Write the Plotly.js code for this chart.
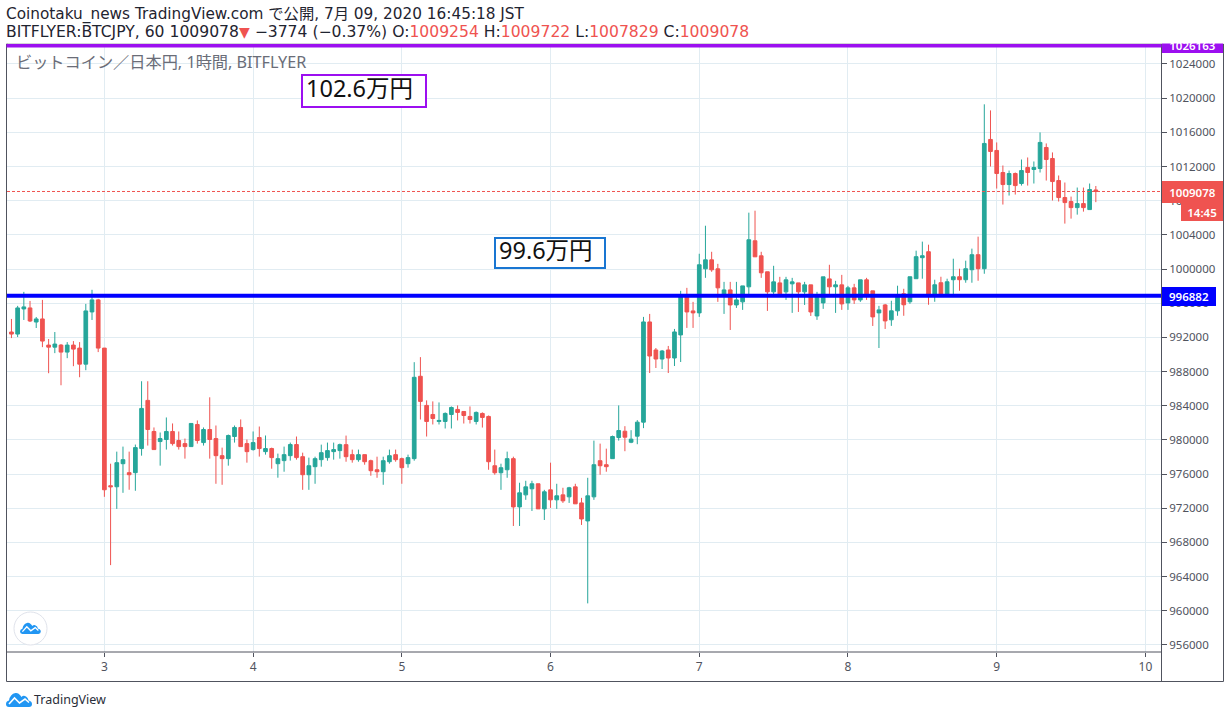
<!DOCTYPE html>
<html><head><meta charset="utf-8">
<script src="https://cdn.plot.ly/plotly-3.0.1.min.js"></script>
<style>html,body{margin:0;padding:0;background:#fff}#chart{width:1230px;height:718px}</style>
</head><body><div id="chart"></div>
<script>
var opens=[992630,992390,995330,995450,993800,994160,991100,990860,991100,990280,
991100,990750,988870,994980,996390,990750,974640,974520,977220,976170,
976170,978990,984630,980990,979810,980050,980990,979930,979570,979220,
981810,979690,981220,980160,978160,977810,980400,981460,979570,978870,
980280,978630,978990,977220,977580,978160,979460,978040,975930,976870,
977690,977930,978630,978750,979450,978280,977690,978280,977570,976510,
976280,977450,978280,977810,977220,977810,987450,984040,982980,982160,
982160,982980,983570,983330,982750,982160,983100,982750,976980,976160,
976510,977810,972160,973570,974280,974870,971930,974160,972990,973570,
973340,974510,972630,970520,973340,977570,977100,977810,980280,981020,
979730,980440,982080,993810,990530,989470,990530,989590,992290,996980,
995100,994870,1000030,1001080,1000030,996860,997560,995800,996160,997920,
1003310,1001550,999680,997330,998380,997330,998270,998380,997330,998150,
994510,996040,998850,997920,998150,996040,997800,996390,998740,997450,
994870,995800,994060,995110,997110,996170,998870,1001330,1002030,996870,
998400,996870,998750,999100,998750,999920,1001680,1000040,1015170,1013880,
1011300,1009890,1011180,1010010,1011890,1011650,1011770,1014230,1012940,1010360,
1008370,1007900,1007190,1007660,1006960,1009254];
var highs=[994160,995690,997330,996270,994390,996390,991810,992630,991220,991450,
991570,991450,995920,997570,996510,990750,977220,978630,979220,978630,
979460,986870,986870,981460,980870,982630,981930,980990,980160,981930,
982280,981460,984990,981690,979100,980630,981690,982400,980050,980990,
981570,980520,979100,978400,979220,979690,980400,978510,977930,978040,
979450,979690,979690,979570,980510,978870,978870,978280,977690,978040,
978040,978870,978870,977930,978280,989100,989690,984630,984510,984390,
983220,983920,984040,983330,983920,983330,983220,982860,978870,977220,
978630,978040,974990,975220,975220,974870,974160,977340,974870,974400,
974510,974870,973220,975570,979920,979570,978980,980510,984040,981610,
981140,982320,994400,994750,990760,990530,991000,992990,997450,997800,
996160,1001790,1005070,1002020,1000610,998500,998500,998500,998030,1006600,
1006830,1002020,999680,1000380,999090,999090,998970,998380,998500,998150,
997330,999090,1000500,998620,999320,998030,998270,998740,998970,997450,
995690,995920,996290,998050,997690,999100,1002150,1003210,1002850,998750,
999100,998870,1001210,1000040,1000980,1002390,1003790,1019280,1018570,1014820,
1012120,1011530,1011300,1012820,1013060,1012590,1015990,1014700,1013650,1010950,
1010130,1008480,1009540,1009540,1010010,1009722];
var lows=[991920,992040,994040,993800,993100,990860,987810,990160,986400,989570,
988630,987340,988160,994040,990280,973340,965350,971930,973810,974170,
974050,978160,979340,978870,976990,978870,979340,978870,977810,979220,
979570,979340,977810,974870,974750,976990,979690,979220,977340,978750,
978050,978280,976630,975580,976280,977580,977690,974160,974160,974870,
976870,977570,977690,977810,977450,977340,977450,977100,975810,975570,
974750,977220,977450,974870,976750,977570,982390,980400,981810,981810,
981340,981340,982280,981920,981920,981810,981450,976510,975930,974160,
975570,969930,969930,972990,971690,971930,970630,972050,971930,972630,
972630,972520,970050,960870,972990,975930,976280,977810,979920,978680,
979620,979500,981380,987830,988420,988300,987830,988650,989120,993110,
993110,994400,998970,999680,996160,994750,992870,995450,995220,996980,
1001430,998970,995100,996980,996780,996390,994870,994980,995800,994510,
994050,995340,996980,994870,995220,995220,995920,996160,996390,993340,
990760,992990,993350,994530,994530,995930,998870,998870,995820,996170,
996870,996870,996990,997460,998400,998400,998630,999450,1012000,1009420,
1007550,1008600,1008720,1009770,1009770,1010010,1011300,1010360,1008020,1007900,
1005320,1005900,1006370,1006720,1006960,1007829];
var closes=[992390,995450,995570,993920,994160,991570,990860,991220,990280,991100,
990630,988870,995100,996390,990750,974170,974520,977340,977690,975930,
979100,983690,981220,978870,980160,980990,979570,979220,979220,981930,
979930,981220,980050,978160,977810,980520,981460,979220,978630,979690,
978990,978990,977930,977810,978280,979460,977930,975930,976980,977810,
978510,978750,978870,979450,978040,977690,978280,977450,976400,976280,
977570,978160,977690,976750,977930,987330,984510,982160,982510,982280,
983100,983800,983220,982860,982390,983220,982630,977450,976160,976750,
977810,972160,973810,974510,974870,971930,973930,972990,973460,972870,
974400,972520,970750,973460,977100,976980,976870,980400,981100,980320,
980090,982080,993810,989820,989470,990410,989590,992640,996860,994980,
994870,1000500,1001080,999910,997800,997560,995800,996390,998030,1003430,
1001430,999560,997330,998500,997100,998740,998500,997330,998150,994980,
996980,999090,997920,998150,995920,997800,996390,998740,996780,994400,
995220,993930,995110,996870,995820,999100,1001450,1001560,996990,998160,
996870,998510,999100,998750,1000040,1001680,1000040,1014700,1013760,1011180,
1009890,1011180,1009770,1011530,1011300,1011890,1014820,1012820,1010240,1008370,
1007780,1007190,1007660,1007190,1009310,1009078];
var firstCandle=Date.UTC(2020,6,2,9);
var hourMs=3600000;
var times=opens.map(function(_,i){return firstCandle+i*hourMs;});
var lastPrice=1009078, bluePrice=996882, purplePrice=1026163;
var WIDTH=1230,HEIGHT=718,ML=7,MR=69,MT=44,MB=66;
var UP='#26a69a',DOWN='#ef5350',GRID='#e1ecf2',FRAME='#50535e',PURPLE='#9c0ff0',BLUE='#0000ff',BOX2='#1976d2';
var JP='"Noto Sans","Noto Sans CJK JP",sans-serif';
var HEAD='"DejaVu Sans","Noto Sans CJK JP",sans-serif';
function X(p){return (p-ML)/(WIDTH-ML-MR);}
function Y(p){return (HEIGHT-MB-p)/(HEIGHT-MT-MB);}
function note(px,py,text,size,color,family){
  return {xref:'paper',yref:'paper',x:X(px),y:Y(py),text:text,showarrow:false,xanchor:'left',yanchor:'middle',
         font:{family:family||JP,size:size,color:color},borderpad:0,borderwidth:0};
}
function label(x0,x1,y0,y1,text,bg){
  return {xref:'paper',yref:'paper',x:X(x0),y:Y(y0),xanchor:'left',yanchor:'top',width:x1-x0,height:y1-y0,
    text:text,showarrow:false,bgcolor:bg,borderpad:0,borderwidth:0,align:'center',valign:'middle',
    font:{family:'"Noto Sans",sans-serif',size:11.5,color:'#fff',weight:600}};
}
function rect(x0,y0,x1,y1,opt){
  var s={type:'rect',xref:'paper',yref:'paper',x0:X(x0),x1:X(x1),y0:Y(y0),y1:Y(y1),layer:'above',line:{width:1,color:FRAME},fillcolor:'rgba(0,0,0,0)'};
  for(var k in (opt||{}))s[k]=opt[k];
  return s;
}
function scaled(cmds,ox,oy,s){
  return cmds.map(function(c){
    if(typeof c==='string')return c;
    return (X(ox+c[0]*s))+','+(Y(oy+c[1]*s));
  }).join(' ');
}
var cloud=['M',[3,15],'Q',[0,15],[0,12],'Q',[0,9],[3,8.5],'Q',[4,2],[9.5,1],'Q',[12,0.5],[14,3],'L',[15.5,5],'Q',[17,3],[19,4],'Q',[22,5],[22.5,8.5],'Q',[26,9],[26,12],'Q',[26,15],[23,15],'Z'];
var zig=['M',[3,12],'L',[8.5,6],'L',[13.5,11],'L',[19,7],'L',[23,10.5]];
function logo(ox,oy,s,lw){
  return [
   {type:'path',xref:'paper',yref:'paper',path:scaled(cloud,ox,oy,s),fillcolor:'#2196f3',line:{width:0},layer:'above'},
   {type:'path',xref:'paper',yref:'paper',path:scaled(zig,ox,oy,s),line:{width:lw,color:'#fff'},layer:'above'}
  ];
}
var shapes=[
 {type:'line',xref:'paper',yref:'y',x0:0,x1:1,y0:lastPrice,y1:lastPrice,line:{color:DOWN,width:1,dash:'3px,2px'},layer:'above'},
 {type:'line',xref:'paper',yref:'y',x0:0,x1:1,y0:bluePrice,y1:bluePrice,line:{color:BLUE,width:4},layer:'above'},
 rect(302,75,426,107,{line:{color:PURPLE,width:2},fillcolor:'#fff'}),
 rect(495,238,605,268,{line:{color:BOX2,width:2},fillcolor:'#fff'}),
 rect(6.5,44,1223.5,681.5),
 {type:'line',xref:'paper',yref:'paper',x0:X(1161.5),x1:X(1161.5),y0:Y(44),y1:Y(681.5),line:{color:FRAME,width:1},layer:'above'},
 {type:'line',xref:'paper',yref:'paper',x0:X(6.5),x1:X(1161.5),y0:Y(652),y1:Y(652),line:{color:FRAME,width:1},layer:'above'},
 {type:'line',xref:'paper',yref:'y',x0:X(6.5),x1:X(1161.5),y0:purplePrice,y1:purplePrice,line:{color:PURPLE,width:4},layer:'above'},
 {type:'circle',xref:'paper',yref:'paper',x0:X(14),x1:X(47),y0:Y(612),y1:Y(645),fillcolor:'#fff',line:{color:'#e0e3eb',width:1},layer:'above'}
].concat(logo(20,622,0.8,1.3)).concat(logo(6,692,1,1.6));
var line2='BITFLYER:BTCJPY, 60 1009078<span style="color:#ef5350;font-size:14px">▼</span> −3774 (−0.37%) O:<span style="color:#ef5350">1009254</span> H:<span style="color:#ef5350">1009722</span> L:<span style="color:#ef5350">1007829</span> C:<span style="color:#ef5350">1009078</span>';
var annotations=[
 label(1162,1223,38,53,'1026163',PURPLE),
 {xref:'paper',yref:'paper',x:0,y:1,xanchor:'left',yanchor:'bottom',width:WIDTH,height:MT,showarrow:false,align:'left',valign:'top',bgcolor:'#fff',borderpad:0,
  text:'<span style="font-size:14px"> </span>',font:{family:JP,size:14,color:'#fff'}},
 note(6,15,'Coinotaku_news TradingView.com で公開, 7月 09, 2020 16:45:18 JST',15.3,'#1f2430',HEAD),
 note(6,32,line2,15.6,'#1f2430',HEAD),
 note(16,62,'ビットコイン／日本円, 1時間, BITFLYER',16.2,'#6a6d78'),
 note(306,88,'102.6万円',23.5,'#111'),
 note(499,250,'99.6万円',23.5,'#111'),
 label(1162,1223,181,203,'1009078',DOWN),
 label(1181,1223,203,221,'14:45',DOWN),
 label(1162,1216,287,306,'996882',BLUE),
 note(34,699,'TradingView',12.5,'#2a2e39')
];
var trace={type:'candlestick',x:times,open:opens,high:highs,low:lows,close:closes,
 increasing:{line:{color:UP,width:1},fillcolor:UP},decreasing:{line:{color:DOWN,width:1},fillcolor:DOWN},
 hoverinfo:'skip',showlegend:false,whiskerwidth:0};
var layout={width:WIDTH,height:HEIGHT,margin:{l:ML,r:MR,t:MT,b:MB,pad:0},paper_bgcolor:'#fff',plot_bgcolor:'#fff',showlegend:false,boxgap:0.15,
 xaxis:{type:'date',range:['2020-07-02 08:17','2020-07-10 02:31'],rangeslider:{visible:false},tick0:'2020-07-03',dtick:86400000,tickformat:'%-d',
   ticks:'outside',ticklen:4,tickcolor:FRAME,tickfont:{family:'"Noto Sans",sans-serif',size:12,color:FRAME},showgrid:true,gridcolor:GRID,gridwidth:1,zeroline:false,showline:false,automargin:false},
 yaxis:{side:'right',range:[955180,1026340],tick0:956000,dtick:4000,tickformat:'d',ticks:'outside',ticklen:5,tickcolor:FRAME,
   tickfont:{family:'"Noto Sans",sans-serif',size:11.5,color:FRAME},showgrid:true,gridcolor:GRID,gridwidth:1,zeroline:false,showline:false,automargin:false},
 shapes:shapes,annotations:annotations};
Plotly.newPlot('chart',[trace],layout,{displayModeBar:false,staticPlot:true});
</script></body></html>
